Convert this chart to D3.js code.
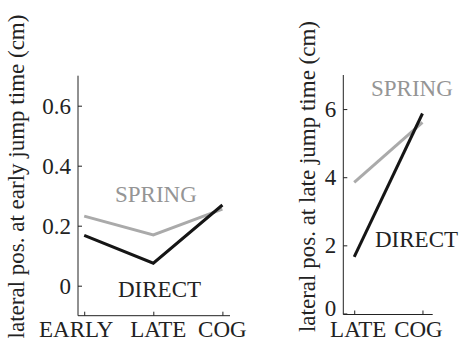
<!DOCTYPE html>
<html>
<head>
<meta charset="utf-8">
<script src="https://cdn.jsdelivr.net/npm/d3@7"></script>
<style>
  body { margin: 0; background: #fff; }
  #chart text { font-family: 'Liberation Serif'; }
</style>
</head>
<body>
<svg id="chart" width="463" height="343"></svg>
<script>
// left panel: early jump time
const earlyCats = ['EARLY', 'LATE', 'COG'];
const earlySpring = [0.232, 0.169, 0.255];
const earlyDirect = [0.168, 0.075, 0.269];
const earlyTicks = [0, 0.2, 0.4, 0.6];

// right panel: late jump time
const lateCats = ['LATE', 'COG'];
const lateSpring = [3.85, 5.61];
const lateDirect = [1.66, 5.87];
const lateTicks = [0, 2, 4, 6];

const svg = d3.select('#chart');

function drawPanel(opt) {
  const x = d3.scaleLinear().domain(opt.xDomain).range([opt.left, opt.right]);
  const y = d3.scaleLinear().domain(opt.yDomain).range([opt.bottom, opt.top]);
  const g = svg.append('g');

  // y axis, ticks pointing inward
  g.append('g')
    .attr('transform', `translate(${opt.left},0)`)
    .call(d3.axisRight(y).tickValues(opt.yTicks).tickSize(4).tickFormat(''))
    .call(a => a.select('.domain').attr('d', `M0,${opt.bottom}V${opt.top}`))
    .call(a => a.selectAll('text').remove())
    .selectAll('line').attr('stroke', '#222');
  g.selectAll('.ylab')
    .data(opt.yTicks)
    .join('text')
    .attr('class', 'ylab')
    .attr('x', opt.left - 7)
    .attr('y', d => Math.min(y(d), opt.bottom - 6))
    .attr('dy', '0.34em')
    .attr('text-anchor', 'end')
    .attr('font-size', 23)
    .attr('fill', '#222')
    .text(d => d);

  // x axis, ticks pointing up
  g.append('g')
    .attr('transform', `translate(0,${opt.bottom})`)
    .call(d3.axisTop(x).tickValues(d3.range(1, opt.cats.length + 1)).tickSize(4).tickFormat(''))
    .call(a => a.select('.domain').attr('d', `M${opt.left},0H${opt.right}`))
    .call(a => a.selectAll('text').remove())
    .selectAll('line').attr('stroke', '#222');
  g.selectAll('.xlab')
    .data(opt.cats)
    .join('text')
    .attr('class', 'xlab')
    .attr('x', (d, i) => x(i + 1) + opt.catShift[i])
    .attr('y', 337)
    .attr('text-anchor', 'middle')
    .attr('font-size', 23)
    .attr('fill', '#222')
    .text(d => d);
  g.selectAll('.domain').attr('stroke', '#222');

  // y title
  g.append('text')
    .attr('transform', `translate(${opt.titleX},176.5) rotate(-90)`)
    .attr('text-anchor', 'middle')
    .attr('font-size', 23)
    .attr('fill', '#222')
    .text(opt.title);

  const line = d3.line().x((d, i) => x(i + 1)).y(d => y(d));
  g.append('path').datum(opt.spring)
    .attr('d', line).attr('fill', 'none')
    .attr('stroke', '#aaaaaa').attr('stroke-width', 3);
  g.append('path').datum(opt.direct)
    .attr('d', line).attr('fill', 'none')
    .attr('stroke', '#151515').attr('stroke-width', 3);

  g.append('text')
    .attr('x', opt.springLab[0]).attr('y', opt.springLab[1])
    .attr('font-size', 23).attr('fill', '#959595')
    .text('SPRING');
  g.append('text')
    .attr('x', opt.directLab[0]).attr('y', opt.directLab[1])
    .attr('font-size', 23).attr('fill', '#222')
    .text('DIRECT');
}

drawPanel({
  cats: earlyCats, spring: earlySpring, direct: earlyDirect, yTicks: earlyTicks,
  xDomain: [0.91, 3.11], yDomain: [-0.1, 0.7],
  left: 78, right: 230, top: 75.7, bottom: 315.7,
  catShift: [-8, 5, 0],
  title: 'lateral pos. at early jump time (cm)', titleX: 24,
  springLab: [115, 202], directLab: [118, 297]
});

drawPanel({
  cats: lateCats, spring: lateSpring, direct: lateDirect, yTicks: lateTicks,
  xDomain: [0.84, 2.15], yDomain: [-0.03, 7],
  left: 343.3, right: 432.7, top: 75, bottom: 314.5,
  catShift: [4, -4],
  title: 'lateral pos. at late jump time (cm)', titleX: 315,
  springLab: [371, 96], directLab: [375, 247]
});
</script>
</body>
</html>
